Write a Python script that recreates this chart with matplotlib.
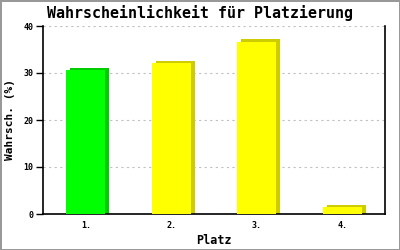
import matplotlib.pyplot as plt
import numpy as np

# Werte
plaetze = ['1.', '2.', '3.', '4.']
wahrsch = [30.7, 32.2, 36.7, 1.5]
farben = ['#00ff00', '#ffff00', '#ffff00', '#ffff00']
seiten = ['#00cc00', '#cccc00', '#cccc00', '#cccc00']

mono = 'DejaVu Sans Mono'

fig = plt.figure(figsize=(4, 2.5), dpi=100)
fig.patch.set_edgecolor('#999999')
fig.patch.set_linewidth(2)
ax = fig.add_axes([0.1075, 0.144, 0.855, 0.752])

x = np.arange(len(plaetze))
breite = 0.456
dx = 0.047
dy = 0.45

# Seitenflaeche (3D-Effekt), danach Vorderseite
ax.bar(x + dx, np.array(wahrsch) + dy, width=breite, color=seiten, zorder=2)
ax.bar(x, wahrsch, width=breite, color=farben, zorder=3)

ax.set_xlim(-0.5, len(plaetze) - 0.5)
ax.set_ylim(0, 40)
ax.set_yticks([0, 10, 20, 30, 40])
ax.set_xticks(x)
ax.set_xticklabels(plaetze)
ax.tick_params(axis='x', length=0, pad=5, labelsize=6)
ax.tick_params(axis='y', length=5, width=1, pad=2, labelsize=6)
for lab in ax.get_xticklabels() + ax.get_yticklabels():
    lab.set_family(mono)
    lab.set_weight('bold')

ax.grid(axis='y', color='#c0c0c0', linestyle=(0, (2, 3)), linewidth=0.8, zorder=0)
ax.set_axisbelow(True)
ax.spines['top'].set_visible(False)
for s in ['left', 'right', 'bottom']:
    ax.spines[s].set_linewidth(1.2)

fig.text(0.5, 0.948, 'Wahrscheinlichkeit für Platzierung', ha='center', va='center',
         family=mono, weight='bold', fontsize=10.8)
ax.set_ylabel('Wahrsch. (%)', family=mono, weight='bold', fontsize=8, labelpad=6)
ax.set_xlabel('Platz', family=mono, weight='bold', fontsize=8.5, labelpad=3)

fig.savefig('out.png', dpi=100)
